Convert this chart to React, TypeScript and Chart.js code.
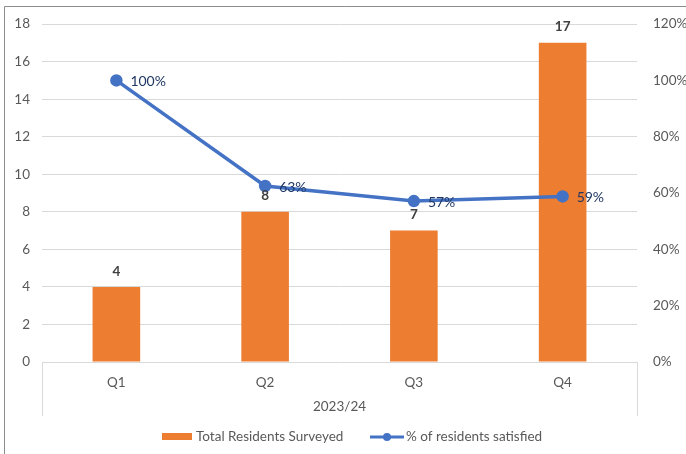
import React, { useEffect, useRef } from "react";
import { Chart, registerables } from "chart.js";

Chart.register(...registerables);

const categories = ["Q1", "Q2", "Q3", "Q4"];
const groupLabel = "2023/24";
const surveyed = [4, 8, 7, 17];
const satisfied = [1.0, 0.625, 0.5714, 0.588];
const satisfiedLabels = ["100%", "63%", "57%", "59%"];
const barName = "Total Residents Surveyed";
const lineName = "% of residents satisfied";

const ORANGE = "#ED7D31";
const BLUE = "#4472C4";
const FONT = "Lato, 'Open Sans', sans-serif";

export default function App() {
  const ref = useRef<HTMLCanvasElement>(null);
  useEffect(() => {
    document.body.style.margin = "0";
    const canvas = ref.current!;
    const extras = {
      id: "extras",
      afterDatasetsDraw(chart: any) {
        const ctx = chart.ctx;
        ctx.save();
        // bar labels
        const barMeta = chart.getDatasetMeta(0);
        ctx.font = `bold 13.5px ${FONT}`;
        ctx.fillStyle = "#404040";
        ctx.textAlign = "center";
        ctx.textBaseline = "bottom";
        barMeta.data.forEach((el: any, i: number) => {
          ctx.fillText(String(surveyed[i]), el.x, el.y - 9);
        });
        // line labels
        const lineMeta = chart.getDatasetMeta(1);
        ctx.font = `14px ${FONT}`;
        ctx.fillStyle = "#203864";
        ctx.textAlign = "left";
        ctx.textBaseline = "middle";
        lineMeta.data.forEach((el: any, i: number) => {
          ctx.fillText(satisfiedLabels[i], el.x + 14, el.y + 1);
        });
        ctx.restore();
      },
      afterDraw(chart: any) {
        const ctx = chart.ctx;
        const area = chart.chartArea;
        ctx.save();
        // outer border (top & left)
        ctx.strokeStyle = "#8C8C8C";
        ctx.lineWidth = 1;
        ctx.beginPath();
        ctx.moveTo(4.5, 454);
        ctx.lineTo(4.5, 6.5);
        ctx.lineTo(686, 6.5);
        ctx.stroke();
        // multi-level axis separators
        ctx.strokeStyle = "#D9D9D9";
        ctx.beginPath();
        ctx.moveTo(Math.round(area.left) + 0.5, area.bottom);
        ctx.lineTo(Math.round(area.left) + 0.5, 416);
        ctx.moveTo(Math.round(area.right) + 0.5, area.bottom);
        ctx.lineTo(Math.round(area.right) + 0.5, 416);
        ctx.stroke();
        // group label
        ctx.font = `13.5px ${FONT}`;
        ctx.fillStyle = "#595959";
        ctx.textAlign = "center";
        ctx.textBaseline = "middle";
        ctx.fillText(groupLabel, (area.left + area.right) / 2, 407);
        // legend
        ctx.textAlign = "left";
        ctx.fillStyle = ORANGE;
        ctx.fillRect(162, 433, 30, 7);
        ctx.fillStyle = "#595959";
        ctx.fillText(barName, 196, 437);
        ctx.strokeStyle = BLUE;
        ctx.lineWidth = 3;
        ctx.beginPath();
        ctx.moveTo(370, 437);
        ctx.lineTo(404, 437);
        ctx.stroke();
        ctx.fillStyle = BLUE;
        ctx.beginPath();
        ctx.arc(387, 437, 4, 0, Math.PI * 2);
        ctx.fill();
        ctx.fillStyle = "#595959";
        ctx.fillText(lineName, 406, 437);
        ctx.restore();
      },
    };
    const chart = new Chart(canvas, {
      type: "bar",
      data: {
        labels: categories,
        datasets: [
          {
            type: "bar",
            label: barName,
            data: surveyed,
            backgroundColor: ORANGE,
            yAxisID: "y",
            barPercentage: 0.32,
            categoryPercentage: 1,
            order: 2,
          },
          {
            type: "line",
            label: lineName,
            data: satisfied,
            borderColor: BLUE,
            backgroundColor: BLUE,
            borderWidth: 3.5,
            pointRadius: 4.5,
            pointHoverRadius: 4.5,
            yAxisID: "y1",
            order: 1,
          } as any,
        ],
      },
      options: {
        animation: false,
        responsive: false,
        layout: { padding: { top: 22, left: 0, right: 0, bottom: 0 } },
        plugins: { legend: { display: false }, tooltip: { enabled: false } },
        scales: {
          x: {
            grid: { display: false },
            border: { display: false },
            ticks: { color: "#595959", font: { size: 13.5, family: FONT }, padding: 5 },
            afterFit(s: any) { s.height = 92; },
          },
          y: {
            position: "left",
            min: 0,
            max: 18,
            ticks: { stepSize: 2, color: "#595959", font: { size: 13.5, family: FONT }, padding: 12 },
            grid: { color: "#D9D9D9", lineWidth: 1, drawTicks: false },
            border: { display: false },
            afterFit(s: any) { s.width = 42; },
          },
          y1: {
            position: "right",
            min: 0,
            max: 1.2,
            ticks: {
              stepSize: 0.2,
              color: "#595959",
              font: { size: 13.5, family: FONT },
              padding: 16,
              callback: (v: any) => Math.round(Number(v) * 100) + "%",
            },
            grid: { display: false, drawTicks: false },
            border: { display: false },
            afterFit(s: any) { s.width = 49; },
          },
        },
      },
      plugins: [extras],
    });
    return () => chart.destroy();
  }, []);
  return <canvas ref={ref} width={686} height={454} style={{ display: "block" }} />;
}
